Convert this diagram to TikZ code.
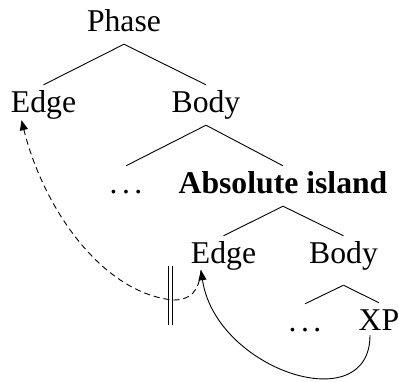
\documentclass[tikz,border=0pt]{standalone}
\usepackage{fontspec}
\setmainfont{Liberation Serif}
\usetikzlibrary{arrows.meta}
\newcommand\spdots{.\kern0.144em.\kern0.144em.}
\begin{document}
\begin{tikzpicture}[x=1pt,y=-1pt,
  lbl/.style={anchor=base,font=\fontsize{31.7}{38}\selectfont,
    text height=22pt,text depth=8pt,inner ysep=5pt,inner xsep=0pt},
  branch/.style={line width=0.9pt},
  move/.style={line width=0.9pt,-{Triangle[length=10pt,width=8pt]}},
  blocked/.style={move,dash pattern=on 6pt off 4pt}]
\useasboundingbox (0,0) rectangle (399,381);

% tree labels
\node[lbl] (phase) at (124,31) {Phase};
\node[lbl] (edge1) at (43.5,112) {Edge};
\node[lbl] (body1) at (206,112) {Body};
\node[lbl] (dots1) at (126,193) {\spdots};
\node[lbl,font=\fontsize{31.7}{38}\selectfont\bfseries] (abs) at (283,193) {Absolute island};
\node[lbl] (edge2) at (223.5,263) {Edge};
\node[lbl] (body2) at (343.5,263) {Body};
\node[lbl] (dots2) at (305,331) {\spdots};
\node[lbl] (xp) at (379,330) {XP};

% branches
\draw[branch] (phase.south) -- (edge1.north);
\draw[branch] (phase.south) -- (body1.north);
\draw[branch] (body1.south) -- (dots1.north);
\draw[branch] (body1.south) -- (abs.north);
\draw[branch] (abs.south) -- (edge2.north);
\draw[branch] (abs.south) -- (body2.north);
\draw[branch] ([yshift=-9pt]body2.south) -- (dots2.north);
\draw[branch] ([yshift=-9pt]body2.south) -- (xp.north);

% movement paths
\coordinate (xpout) at ([xshift=-9pt,yshift=8pt]xp.south);
\coordinate (e2in) at ([xshift=-22.5pt,yshift=6pt]edge2.south);
\coordinate (e1in) at ([xshift=-22pt,yshift=5pt]edge1.south);
\coordinate (bend) at (173,300);

\draw[blocked] (e2in) .. controls +(-2,22) and +(17,0) .. (bend)
  .. controls +(-70,-7) and +(22.5,90) .. (e1in);
\draw[move] (xpout) .. controls +(0,85) and +(15,100) .. (e2in);

% barrier on the dashed path
\draw[line width=1.3pt] (168.3,266) -- (168.3,325);
\draw[line width=1.3pt] (172.5,266) -- (172.5,325);
\end{tikzpicture}
\end{document}
